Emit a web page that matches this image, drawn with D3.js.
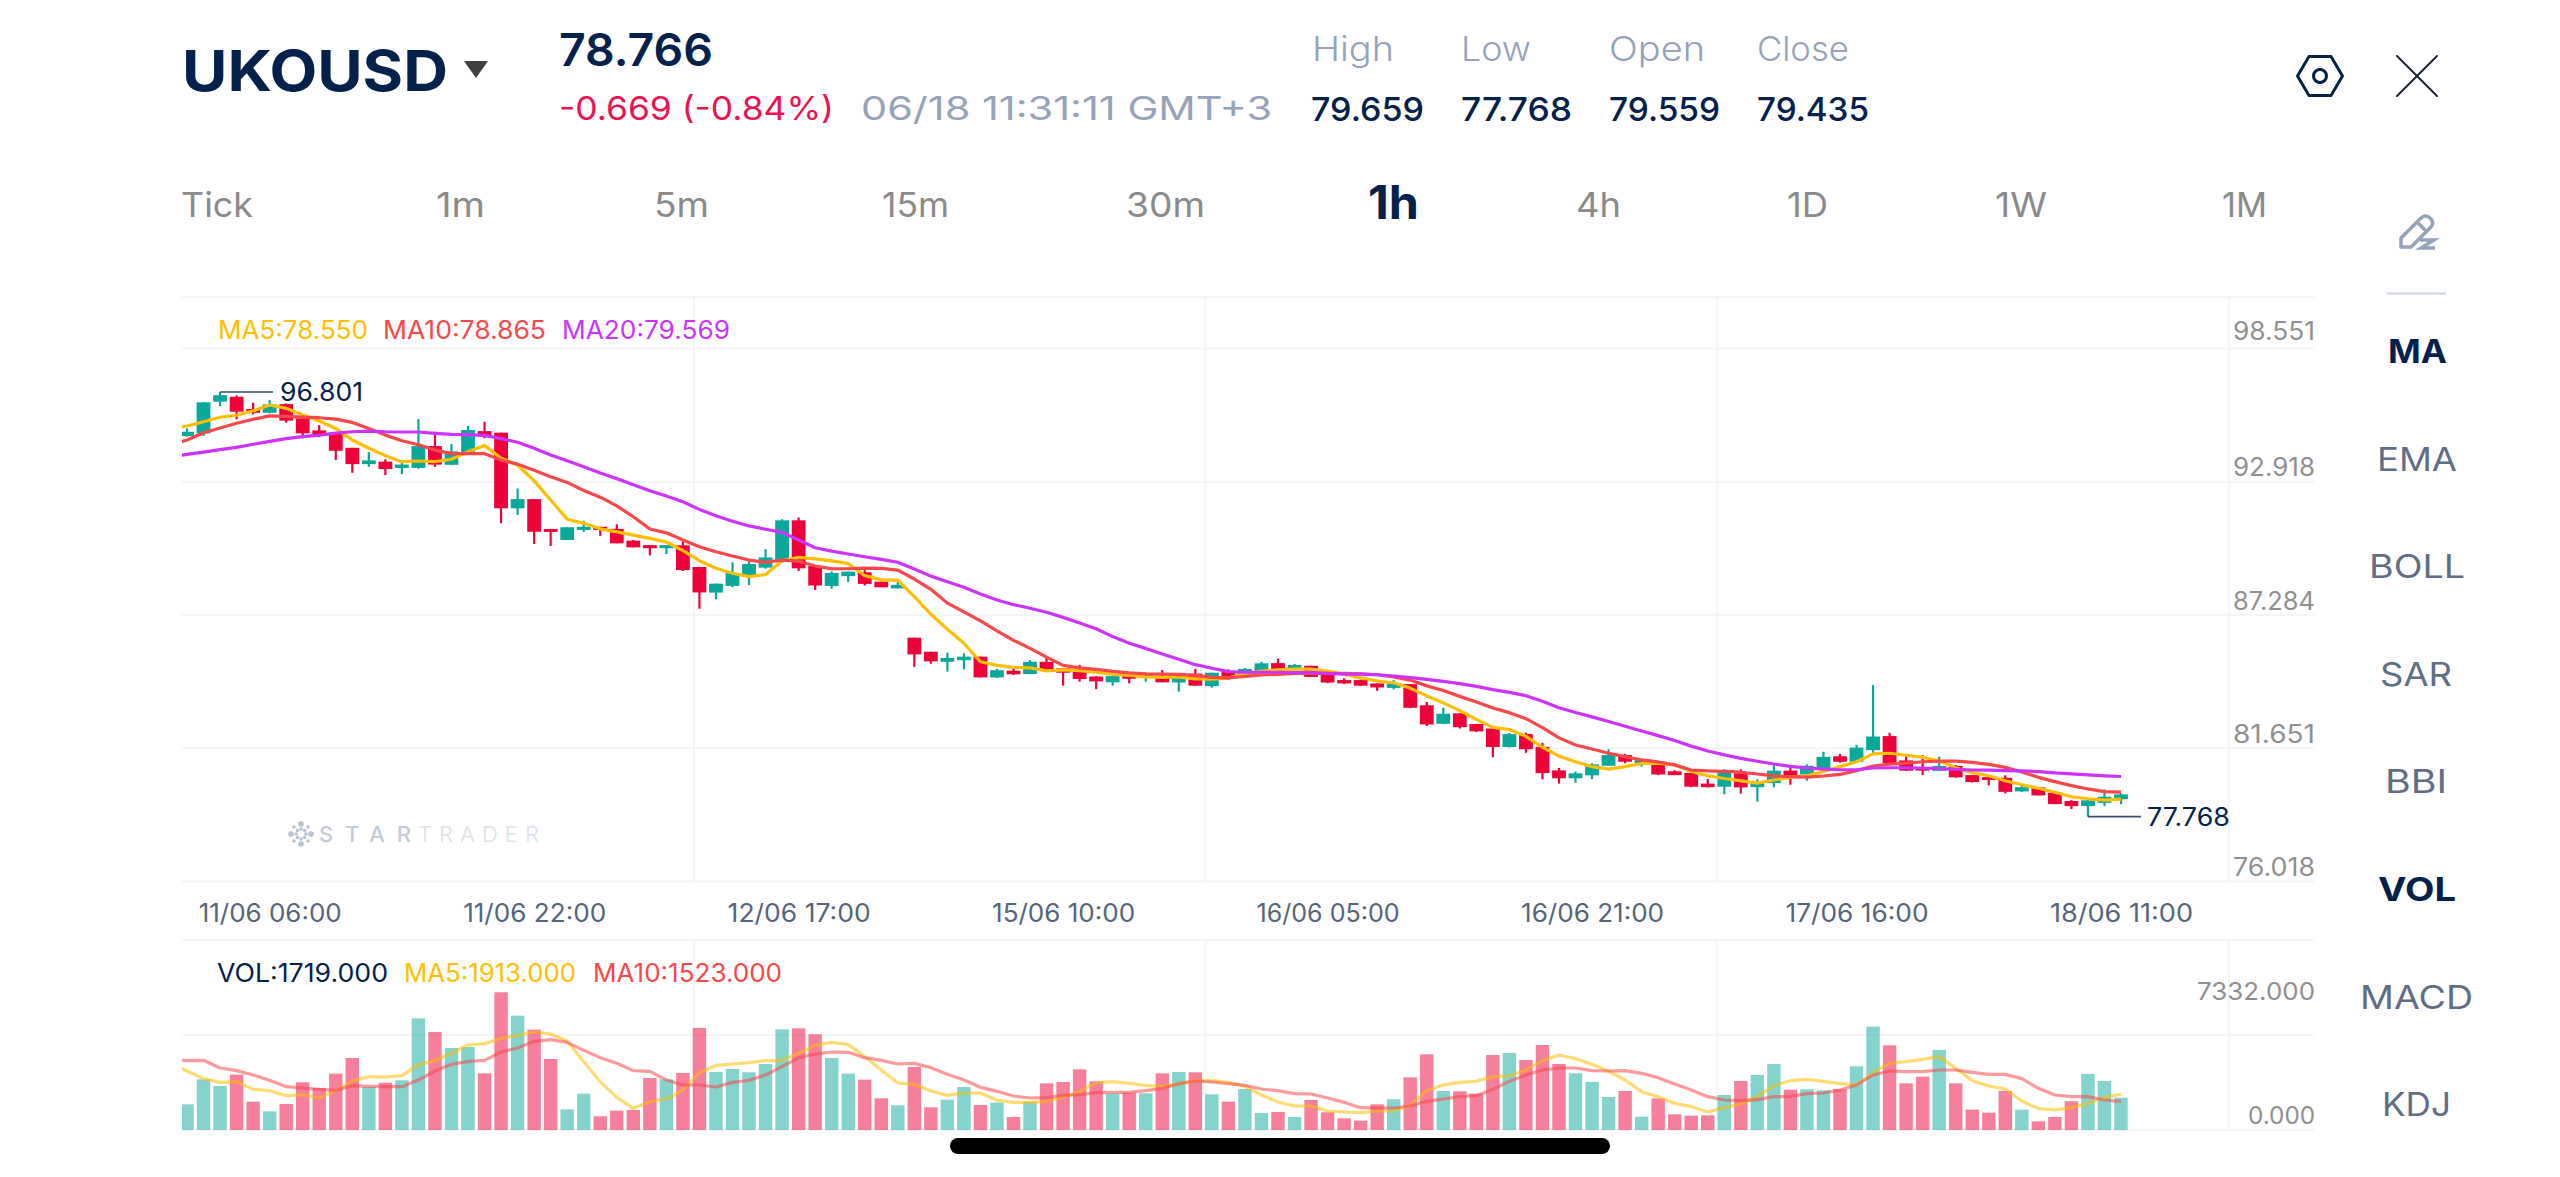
<!DOCTYPE html>
<html>
<head>
<meta charset="utf-8">
<title>UKOUSD 1h</title>
<script src="https://cdn.jsdelivr.net/npm/d3@7/dist/d3.min.js"></script>
<style>
  html, body { margin: 0; padding: 0; background: #fff; }
  svg { display: block; font-family: Inter, "Open Sans", sans-serif; }
</style>
</head>
<body>
<svg id="chart" width="2560" height="1177" viewBox="0 0 2560 1177"></svg>
<script>
// Hourly candles, oldest first.
const opens = [94.83,94.95,96.37,96.59,96.04,95.87,96.26,95.62,95.08,94.92,94.30,93.57,93.68,93.40,93.40,94.38,93.54,94.05,95.05,94.98,
91.59,92.00,90.66,90.17,90.62,90.76,90.67,90.14,89.94,89.80,89.93,88.96,87.81,88.11,88.60,88.93,89.27,91.05,89.00,88.11,
88.55,88.72,88.30,88.00,85.79,85.16,84.71,84.78,84.94,84.01,84.31,84.16,84.71,84.42,84.37,84.05,83.79,84.10,84.03,84.06,
83.78,84.18,83.62,84.25,84.12,84.25,84.65,84.34,84.53,84.18,83.89,83.89,83.74,83.54,83.71,82.76,81.93,82.40,81.92,81.72,
80.89,81.47,80.90,79.84,79.49,79.62,80.05,80.53,80.16,80.23,79.80,79.73,79.25,79.11,79.71,79.09,79.27,79.83,79.66,79.93,
80.47,80.23,80.75,81.38,80.29,79.99,79.82,80.04,79.63,79.54,79.51,78.90,79.08,78.84,78.47,78.24,78.39,78.55];
const highs = [95.17,96.34,96.801,96.65,96.32,96.44,96.29,95.69,95.32,94.95,94.30,94.11,93.79,93.75,95.59,95.02,94.47,95.28,95.47,94.98,
92.48,92.00,90.66,90.74,91.03,90.76,90.87,90.17,89.94,89.94,90.17,88.96,88.21,89.17,89.27,89.76,91.10,91.18,89.00,88.76,
88.75,88.82,88.30,88.30,85.79,85.16,85.12,85.09,84.94,84.40,84.39,84.79,84.91,84.42,84.57,84.06,84.07,84.10,84.22,84.34,
84.01,84.39,84.22,84.37,84.43,84.71,84.85,84.61,84.53,84.18,83.97,83.92,83.74,83.89,83.71,82.91,82.65,82.40,81.93,81.72,
81.52,81.53,81.08,79.95,79.79,80.16,80.79,80.58,80.31,80.26,79.85,79.73,79.46,79.89,79.89,79.44,80.16,79.96,80.11,80.68,
80.58,80.99,83.67,81.53,80.58,80.53,80.45,80.08,79.63,79.54,79.62,79.22,79.08,78.84,78.51,78.50,78.99,78.81];
const lows = [94.80,94.84,96.17,95.58,95.80,95.85,95.43,94.73,94.78,93.75,93.18,93.45,93.08,93.12,93.36,93.45,93.53,94.05,94.73,90.92,
91.29,89.99,89.90,90.17,90.54,90.36,90.02,89.84,89.48,89.54,88.78,87.09,87.51,88.05,88.15,88.88,89.27,88.78,87.93,87.98,
88.29,88.13,88.05,88.00,84.48,84.62,84.27,84.37,84.01,83.98,84.12,84.16,84.34,83.64,83.82,83.48,83.64,83.74,83.82,83.79,
83.37,83.64,83.55,83.90,84.12,84.25,84.37,84.34,84.03,83.75,83.71,83.62,83.41,83.47,82.64,81.83,81.92,81.72,81.56,80.43,
80.87,80.63,79.44,79.25,79.29,79.45,80.05,80.16,80.01,79.63,79.63,79.09,79.08,78.77,78.80,78.44,79.08,79.20,79.38,79.90,
80.19,80.22,80.61,80.16,79.82,79.63,79.82,79.52,79.30,79.17,78.81,78.88,78.72,78.33,78.11,77.768,78.24,78.33];
const closes = [95.02,96.34,96.66,95.92,95.87,96.25,95.52,94.95,94.90,94.17,93.57,93.74,93.35,93.55,94.38,93.55,94.14,95.10,94.80,91.59,
92.00,90.54,90.53,90.74,90.76,90.62,90.02,89.84,89.80,89.94,88.82,87.82,88.21,88.68,89.09,89.39,91.05,88.90,88.13,88.69,
88.75,88.20,88.05,88.16,85.04,84.73,84.88,84.94,84.01,84.33,84.15,84.71,84.34,84.22,83.94,83.83,84.07,83.95,84.15,83.79,
84.01,83.64,84.22,84.03,84.39,84.64,84.37,84.57,84.03,83.78,83.74,83.64,83.56,83.74,82.65,81.90,82.38,81.78,81.59,80.89,
81.47,80.79,79.72,79.49,79.71,80.11,80.53,80.23,80.31,79.66,79.63,79.11,79.09,79.79,79.08,79.29,79.83,79.62,80.05,80.45,
80.23,80.86,81.36,80.16,79.83,79.83,80.04,79.53,79.32,79.41,78.88,79.09,78.72,78.33,78.24,78.50,78.66,78.766];

// Moving averages; each list begins one bar before the first visible candle.
const ma5 = [95.14,95.28,95.47,95.67,95.76,95.96,96.22,96.07,95.77,95.50,95.17,94.65,94.28,93.95,93.68,93.71,93.68,93.79,94.13,94.41,93.83,
93.53,92.82,91.96,91.10,90.92,90.67,90.53,90.39,90.24,90.08,89.69,89.24,88.90,88.68,88.53,88.62,89.24,89.39,89.32,89.23,
89.11,88.57,88.38,88.37,87.63,86.84,86.17,85.54,84.71,84.55,84.46,84.44,84.30,84.35,84.31,84.24,84.14,84.10,84.03,84.01,
84.03,83.94,83.93,83.98,84.18,84.29,84.35,84.38,84.38,84.29,84.15,83.99,83.85,83.77,83.53,83.18,82.87,82.52,82.13,81.77,
81.67,81.37,80.88,80.48,80.23,80.01,79.90,80.01,80.15,80.17,80.09,79.79,79.60,79.48,79.37,79.27,79.41,79.53,79.60,79.79,
80.01,80.23,80.58,80.61,80.52,80.43,80.26,79.96,79.74,79.60,79.38,79.20,79.04,78.86,78.66,78.57,78.51,78.550];
const ma10 = [94.43,94.65,94.98,95.19,95.40,95.58,95.73,95.71,95.68,95.65,95.59,95.44,95.17,94.87,94.62,94.44,94.20,94.04,94.04,94.04,93.75,
93.57,93.29,93.00,92.75,92.39,92.09,91.70,91.21,90.66,90.49,90.17,89.87,89.64,89.45,89.27,89.17,89.27,89.22,89.00,88.88,
88.88,88.91,88.90,88.82,88.42,87.96,87.34,86.95,86.54,86.10,85.67,85.31,84.92,84.55,84.44,84.37,84.28,84.21,84.17,84.16,
84.15,84.10,84.01,83.99,84.05,84.12,84.15,84.19,84.19,84.19,84.19,84.17,84.13,84.03,83.89,83.63,83.42,83.16,82.91,82.64,
82.43,82.16,81.76,81.30,80.98,80.80,80.61,80.46,80.31,80.22,80.09,79.86,79.82,79.80,79.76,79.68,79.60,79.56,79.54,79.59,
79.66,79.83,80.04,80.12,80.17,80.23,80.26,80.26,80.20,80.11,79.98,79.77,79.53,79.34,79.16,79.01,78.89,78.865];
const ma20 = [93.89,94.01,94.11,94.22,94.32,94.46,94.59,94.71,94.80,94.87,94.96,95.02,95.05,95.02,95.01,95.01,94.95,94.90,94.89,94.86,94.71,
94.55,94.28,93.98,93.72,93.45,93.17,92.92,92.65,92.38,92.14,91.88,91.54,91.26,91.01,90.80,90.65,90.51,90.17,89.82,89.67,
89.54,89.42,89.30,89.17,88.87,88.55,88.30,88.05,87.75,87.48,87.27,87.11,86.93,86.70,86.45,86.19,85.84,85.54,85.31,85.06,
84.82,84.58,84.42,84.27,84.24,84.24,84.24,84.22,84.22,84.19,84.16,84.16,84.13,84.07,84.00,83.92,83.83,83.73,83.61,83.46,
83.34,83.19,82.94,82.65,82.44,82.24,82.03,81.82,81.61,81.40,81.18,80.93,80.71,80.54,80.38,80.25,80.13,80.02,79.95,79.90,
79.87,79.87,79.95,79.96,79.96,79.95,79.92,79.89,79.86,79.85,79.83,79.82,79.79,79.73,79.69,79.64,79.60,79.569];

// Traded volume per bar and its averages (averages start one bar earlier).
const volumes = [1367,2698,2343,2947,1509,994,1385,2538,2237,3000,3834,2290,2521,2645,5946,5219,4367,4420,3018,7332,
6088,5343,3781,1101,1935,728,1030,1065,2769,2698,3035,5432,3089,3248,3071,3515,5361,5414,5094,3834,
3000,2680,1686,1314,3355,1207,1615,2290,1331,1456,692,1509,2485,2556,3231,2592,1935,1988,1953,3018,
3089,3071,1899,1509,2183,905,959,692,1598,941,621,497,1367,1633,2805,4029,2077,2059,1935,3994,
4100,3728,4526,3515,3018,2556,1757,2077,710,1686,834,763,781,1864,2609,2929,3515,2148,2166,2112,
2166,3390,5503,4509,2485,2840,4260,2485,1083,923,2077,1083,462,692,1527,2982,2609,1719];
const volMa5 = [3586,3142,2734,2538,2574,2166,2095,1828,1882,1704,2095,2609,2840,2822,2893,3479,3692,4083,4526,4597,4881,
5041,5219,5112,4739,3639,2574,1740,1154,1509,1651,2130,3053,3444,3515,3586,3692,3692,4083,4509,4668,
4544,3905,3195,2503,2432,2077,1846,1970,1970,1580,1473,1473,1527,1757,2041,2521,2574,2485,2379,2325,
2450,2627,2627,2538,2325,1864,1491,1278,1278,1012,959,923,1012,1012,1296,2095,2396,2538,2592,2840,
2876,3195,3692,3994,3799,3497,3124,2663,2041,1775,1420,1243,959,1189,1385,1775,2361,2627,2698,2592,
2467,2396,3053,3550,3639,3763,3905,3284,2627,2343,2183,1544,1136,1065,1189,1420,1722,1913];
const volMa10 = [3763,3692,3710,3302,3160,2929,2645,2308,2237,2166,2112,2361,2325,2308,2308,2663,3142,3497,3657,3710,4154,
4367,4722,4810,4668,4242,3852,3550,3160,3124,2663,2396,2396,2290,2538,2645,2929,3373,3852,4047,4154,
4136,3852,3710,3515,3550,3319,2964,2663,2272,2059,1811,1704,1722,1846,1882,1988,2006,2006,2095,2219,
2467,2609,2556,2467,2379,2183,2095,1935,1917,1704,1473,1189,1172,1172,1278,1527,1651,1775,1828,2166,
2592,2929,3195,3302,3302,3160,3142,3160,3018,2787,2450,2130,1775,1598,1562,1615,1775,1793,1935,1970,
2130,2396,2929,3142,3106,3106,3195,3195,3071,2964,2964,2734,2219,1864,1775,1775,1598,1523];

const priceTicks = ["98.551","92.918","87.284","81.651","76.018"];
const volumeTicks = [7332, 0];
const timeTicks = new Map([[5,"11/06 06:00"],[21,"11/06 22:00"],[37,"12/06 17:00"],[53,"15/06 10:00"],
  [69,"16/06 05:00"],[85,"16/06 21:00"],[101,"17/06 16:00"],[117,"18/06 11:00"]]);

const NAVY = "#03214a", GREEN = "#0aa89a", RED = "#ee0039",
      C_MA5 = "#ffbf00", C_MA10 = "#f9474a", C_MA20 = "#cc33ff",
      GRID = "#f4f5f7", SOFT = "#94a3b8", AXIS = "#8f8f8f", TAB = "#8a8a8a", SIDE = "#5f6e84";

const left = 182, right = 2314;
const svg = d3.select("#chart");
const x = d3.scaleLinear().domain([0, 117]).range([187, 2121]);
const y = d3.scaleLinear().domain([76.018, 98.551]).range([855.7, 353]);
const yVol = d3.scaleLinear().domain([0, 7332]).range([1130, 992.3]);
const yRows = d3.scalePoint().domain(priceTicks).range([348, 881]);
// The vertical rules split the panel into equal columns, independent of the bars.
const xColumns = d3.scaleLinear().domain([0, 4]).range([left, 2229]);

// Places a text with a fixed drawn width, so labels keep their proportions in the substitute face.
function put(text, xPos, yPos, size, fill, weight, width, anchor, adjust) {
  const t = svg.append("text").attr("x", xPos).attr("y", yPos)
    .attr("font-size", size).attr("fill", fill).attr("font-weight", weight || 400)
    .attr("text-anchor", anchor || "start").text(text);
  if (width) t.attr("textLength", width).attr("lengthAdjust", adjust || "spacingAndGlyphs");
  return t;
}

/* ---------- header ---------- */
put("UKOUSD", 182, 91, 56, NAVY, 700, 266);
svg.append("path").attr("d", "M464,61H488L476,78Z").attr("fill", "#404040");
put("78.766", 559, 66, 45, NAVY, 600, 154);
put("-0.669 (-0.84%)", 559, 120, 32, "#ee1150", 400, 275);
put("06/18 11:31:11 GMT+3", 861, 120, 32, SOFT, 400, 411);
[["High", 1312, 82, "79.659", 1311, 113], ["Low", 1461, 70, "77.768", 1461, 111],
 ["Open", 1609, 96, "79.559", 1609, 111], ["Close", 1757, 92, "79.435", 1757, 112]].forEach(d => {
  put(d[0], d[1], 61, 34, SOFT, 300, d[2]);
  put(d[3], d[4], 121, 33, NAVY, 500, d[5]);
});

// Settings and close icons
svg.append("path").attr("d", "M2297.5,76L2309,56.5H2331L2342.5,76L2331,95.5H2309Z")
  .attr("fill", "none").attr("stroke", NAVY).attr("stroke-width", 3).attr("stroke-linejoin", "round");
svg.append("circle").attr("cx", 2320).attr("cy", 76).attr("r", 6.5)
  .attr("fill", "none").attr("stroke", NAVY).attr("stroke-width", 3);
svg.append("path").attr("d", "M2397,56L2437,96M2437,56L2397,96")
  .attr("stroke", "#1c2433").attr("stroke-width", 2).attr("stroke-linecap", "round");

/* ---------- interval tabs ---------- */
[["Tick", 181, 72], ["1m", 436, 49], ["5m", 654, 55], ["15m", 882, 67], ["30m", 1126, 79],
 ["4h", 1576, 45], ["1D", 1787, 41], ["1W", 1995, 52], ["1M", 2222, 45]].forEach(d =>
  put(d[0], d[1], 217, 34, TAB, 400, d[2]));
put("1h", 1368, 219, 46, NAVY, 700, 51);

/* ---------- indicator column ---------- */
svg.append("path")
  .attr("d", "M2401,247V238L2421,218Q2425,214 2430,218Q2435,223 2431,227L2411,247Z M2417,222L2427,232")
  .attr("fill", "none").attr("stroke", SOFT).attr("stroke-width", 3.5).attr("stroke-linejoin", "round");
svg.append("path").attr("d", "M2420,240H2434L2421,248H2435")
  .attr("fill", "none").attr("stroke", SOFT).attr("stroke-width", 3.5);
svg.append("line").attr("x1", 2387).attr("x2", 2446).attr("y1", 293.5).attr("y2", 293.5)
  .attr("stroke", "#ccd5e0").attr("stroke-width", 2);
[["MA", 2388, 59, 700, NAVY], ["EMA", 2377, 80, 400, SIDE], ["BOLL", 2369, 96, 400, SIDE], ["SAR", 2380, 72, 400, SIDE],
 ["BBI", 2385, 62, 400, SIDE], ["VOL", 2378, 78, 700, NAVY], ["MACD", 2360, 113, 400, SIDE], ["KDJ", 2382, 69, 400, SIDE]]
  .forEach((d, i) => put(d[0], d[1], 363 + i * 107.6, 32, d[4], d[3], d[2]));

/* ---------- grids and axes ---------- */
const grid = svg.append("g").attr("stroke", GRID).attr("stroke-width", 2);
[297, 940, 1035, 1130].forEach(v =>
  grid.append("line").attr("x1", left).attr("x2", right).attr("y1", v).attr("y2", v));
[1, 2, 3, 4].forEach(n => {
  [[297, 881], [940, 1130]].forEach(r =>
    grid.append("line").attr("x1", xColumns(n)).attr("x2", xColumns(n)).attr("y1", r[0]).attr("y2", r[1]));
});

const priceAxis = svg.append("g").attr("transform", `translate(${left},0)`)
  .call(d3.axisRight(yRows).tickSize(right - left).tickPadding(0));
priceAxis.select(".domain").remove();
priceAxis.selectAll("line").attr("stroke", GRID).attr("stroke-width", 2);
priceAxis.selectAll("text").attr("text-anchor", "end")
  .attr("dy", (d, i) => i === 0 ? "-0.36em" : "-0.22em")
  .attr("font-size", 25).attr("font-family", "Inter").attr("fill", AXIS)
  .attr("x", right - left + 1).attr("textLength", 82).attr("lengthAdjust", "spacingAndGlyphs");

const timeAxis = svg.append("g").attr("transform", "translate(0,881)")
  .call(d3.axisBottom(x).tickValues([...timeTicks.keys()]).tickFormat(i => timeTicks.get(i)).tickSize(0).tickPadding(23));
timeAxis.select(".domain").remove();
timeAxis.selectAll("text").attr("font-size", 25).attr("font-family", "Inter").attr("fill", "#54657c")
  .attr("textLength", 143).attr("lengthAdjust", "spacingAndGlyphs");

const volAxis = svg.append("g").attr("transform", `translate(${right + 1},0)`)
  .call(d3.axisLeft(yVol).tickValues(volumeTicks).tickFormat(d3.format(".3f")).tickSize(0).tickPadding(0));
volAxis.select(".domain").remove();
volAxis.selectAll("text").attr("font-size", 24).attr("font-family", "Inter").attr("fill", AXIS)
  .attr("dy", d => d === 0 ? "-0.28em" : "0.32em")
  .attr("textLength", d => d === 0 ? 67 : 118).attr("lengthAdjust", "spacingAndGlyphs");

/* ---------- watermark ---------- */
const mark = svg.append("g").attr("fill", "#b6c2cf");
d3.range(8).forEach(k => {
  const a = k * Math.PI / 4;
  mark.append("circle").attr("cx", 301 + 10 * Math.cos(a)).attr("cy", 834 + 10 * Math.sin(a)).attr("r", k % 2 ? 1.8 : 2.8);
  mark.append("circle").attr("cx", 301 + 5 * Math.cos(a)).attr("cy", 834 + 5 * Math.sin(a)).attr("r", 1.8);
});
put("STAR", 319, 842, 22, "#c3ccd6", 500, 92, "start", "spacing");
put("TRADER", 418, 842, 22, "#dde2e8", 300, 121, "start", "spacing");

/* ---------- plots ---------- */
svg.append("defs").append("clipPath").attr("id", "plot-clip").append("rect")
  .attr("x", left).attr("y", 290).attr("width", right - left).attr("height", 850);
const plot = svg.append("g").attr("clip-path", "url(#plot-clip)");

const candles = d3.range(opens.length).map(i => ({
  i, open: opens[i], high: highs[i], low: lows[i], close: closes[i], volume: volumes[i], up: closes[i] >= opens[i]
}));

const bodyWidth = 13.8, barWidth = 13.4, wickWidth = 2.2;
plot.append("g").selectAll("rect").data(candles).join("rect")
  .attr("x", d => x(d.i) - barWidth / 2).attr("width", barWidth)
  .attr("y", d => yVol(d.volume)).attr("height", d => yVol(0) - yVol(d.volume))
  .attr("fill", d => d.up ? GREEN : RED).attr("fill-opacity", 0.5);

const lineFrom = scale => d3.line().x((d, i) => x(i - 1)).y(d => scale(d));
const drawLine = (values, scale, colour, opacity, width) => plot.append("path").datum(values)
  .attr("d", lineFrom(scale)).attr("fill", "none").attr("stroke", colour)
  .attr("stroke-width", width).attr("stroke-opacity", opacity).attr("stroke-linejoin", "round");

drawLine(volMa5, yVol, C_MA5, 0.55, 3.2);
drawLine(volMa10, yVol, C_MA10, 0.55, 3.2);

const candleLayer = plot.append("g");
candleLayer.selectAll("line").data(candles).join("line")
  .attr("x1", d => x(d.i)).attr("x2", d => x(d.i)).attr("y1", d => y(d.high)).attr("y2", d => y(d.low))
  .attr("stroke", d => d.up ? GREEN : RED).attr("stroke-width", wickWidth);
candleLayer.selectAll("rect").data(candles).join("rect")
  .attr("x", d => x(d.i) - bodyWidth / 2).attr("width", bodyWidth)
  .attr("y", d => y(Math.max(d.open, d.close)))
  .attr("height", d => Math.max(1, Math.abs(y(d.open) - y(d.close))))
  .attr("fill", d => d.up ? GREEN : RED);

drawLine(ma5, y, C_MA5, 1, 3.2);
drawLine(ma10, y, C_MA10, 1, 3.2);
drawLine(ma20, y, C_MA20, 1, 3.2);

/* ---------- extreme price markers ---------- */
const highIndex = d3.greatestIndex(highs), lowIndex = d3.leastIndex(lows);
const leaders = svg.append("g").attr("stroke", "#3a4d68").attr("stroke-width", 1.6);
leaders.append("line").attr("x1", x(highIndex)).attr("x2", x(highIndex) + 53)
  .attr("y1", y(highs[highIndex])).attr("y2", y(highs[highIndex]));
leaders.append("line").attr("x1", x(lowIndex)).attr("x2", x(lowIndex) + 53)
  .attr("y1", y(lows[lowIndex])).attr("y2", y(lows[lowIndex]));
put(d3.format(".3f")(highs[highIndex]), x(highIndex) + 60, y(highs[highIndex]) + 9, 25, NAVY, 400, 83);
put(d3.format(".3f")(lows[lowIndex]), x(lowIndex) + 59, y(lows[lowIndex]) + 9.5, 25, NAVY, 400, 83);

/* ---------- legends ---------- */
put("MA5:78.550", 218, 339, 25, C_MA5, 400, 150);
put("MA10:78.865", 383, 339, 25, C_MA10, 400, 163);
put("MA20:79.569", 562, 339, 25, C_MA20, 400, 168);
put("VOL:1719.000", 217, 982, 25, NAVY, 400, 171);
put("MA5:1913.000", 404, 982, 25, C_MA5, 400, 172);
put("MA10:1523.000", 593, 982, 25, C_MA10, 400, 189);

/* ---------- device home bar ---------- */
svg.append("rect").attr("x", 950).attr("y", 1138).attr("width", 660).attr("height", 16).attr("rx", 8).attr("fill", "#000");
</script>
</body>
</html>
